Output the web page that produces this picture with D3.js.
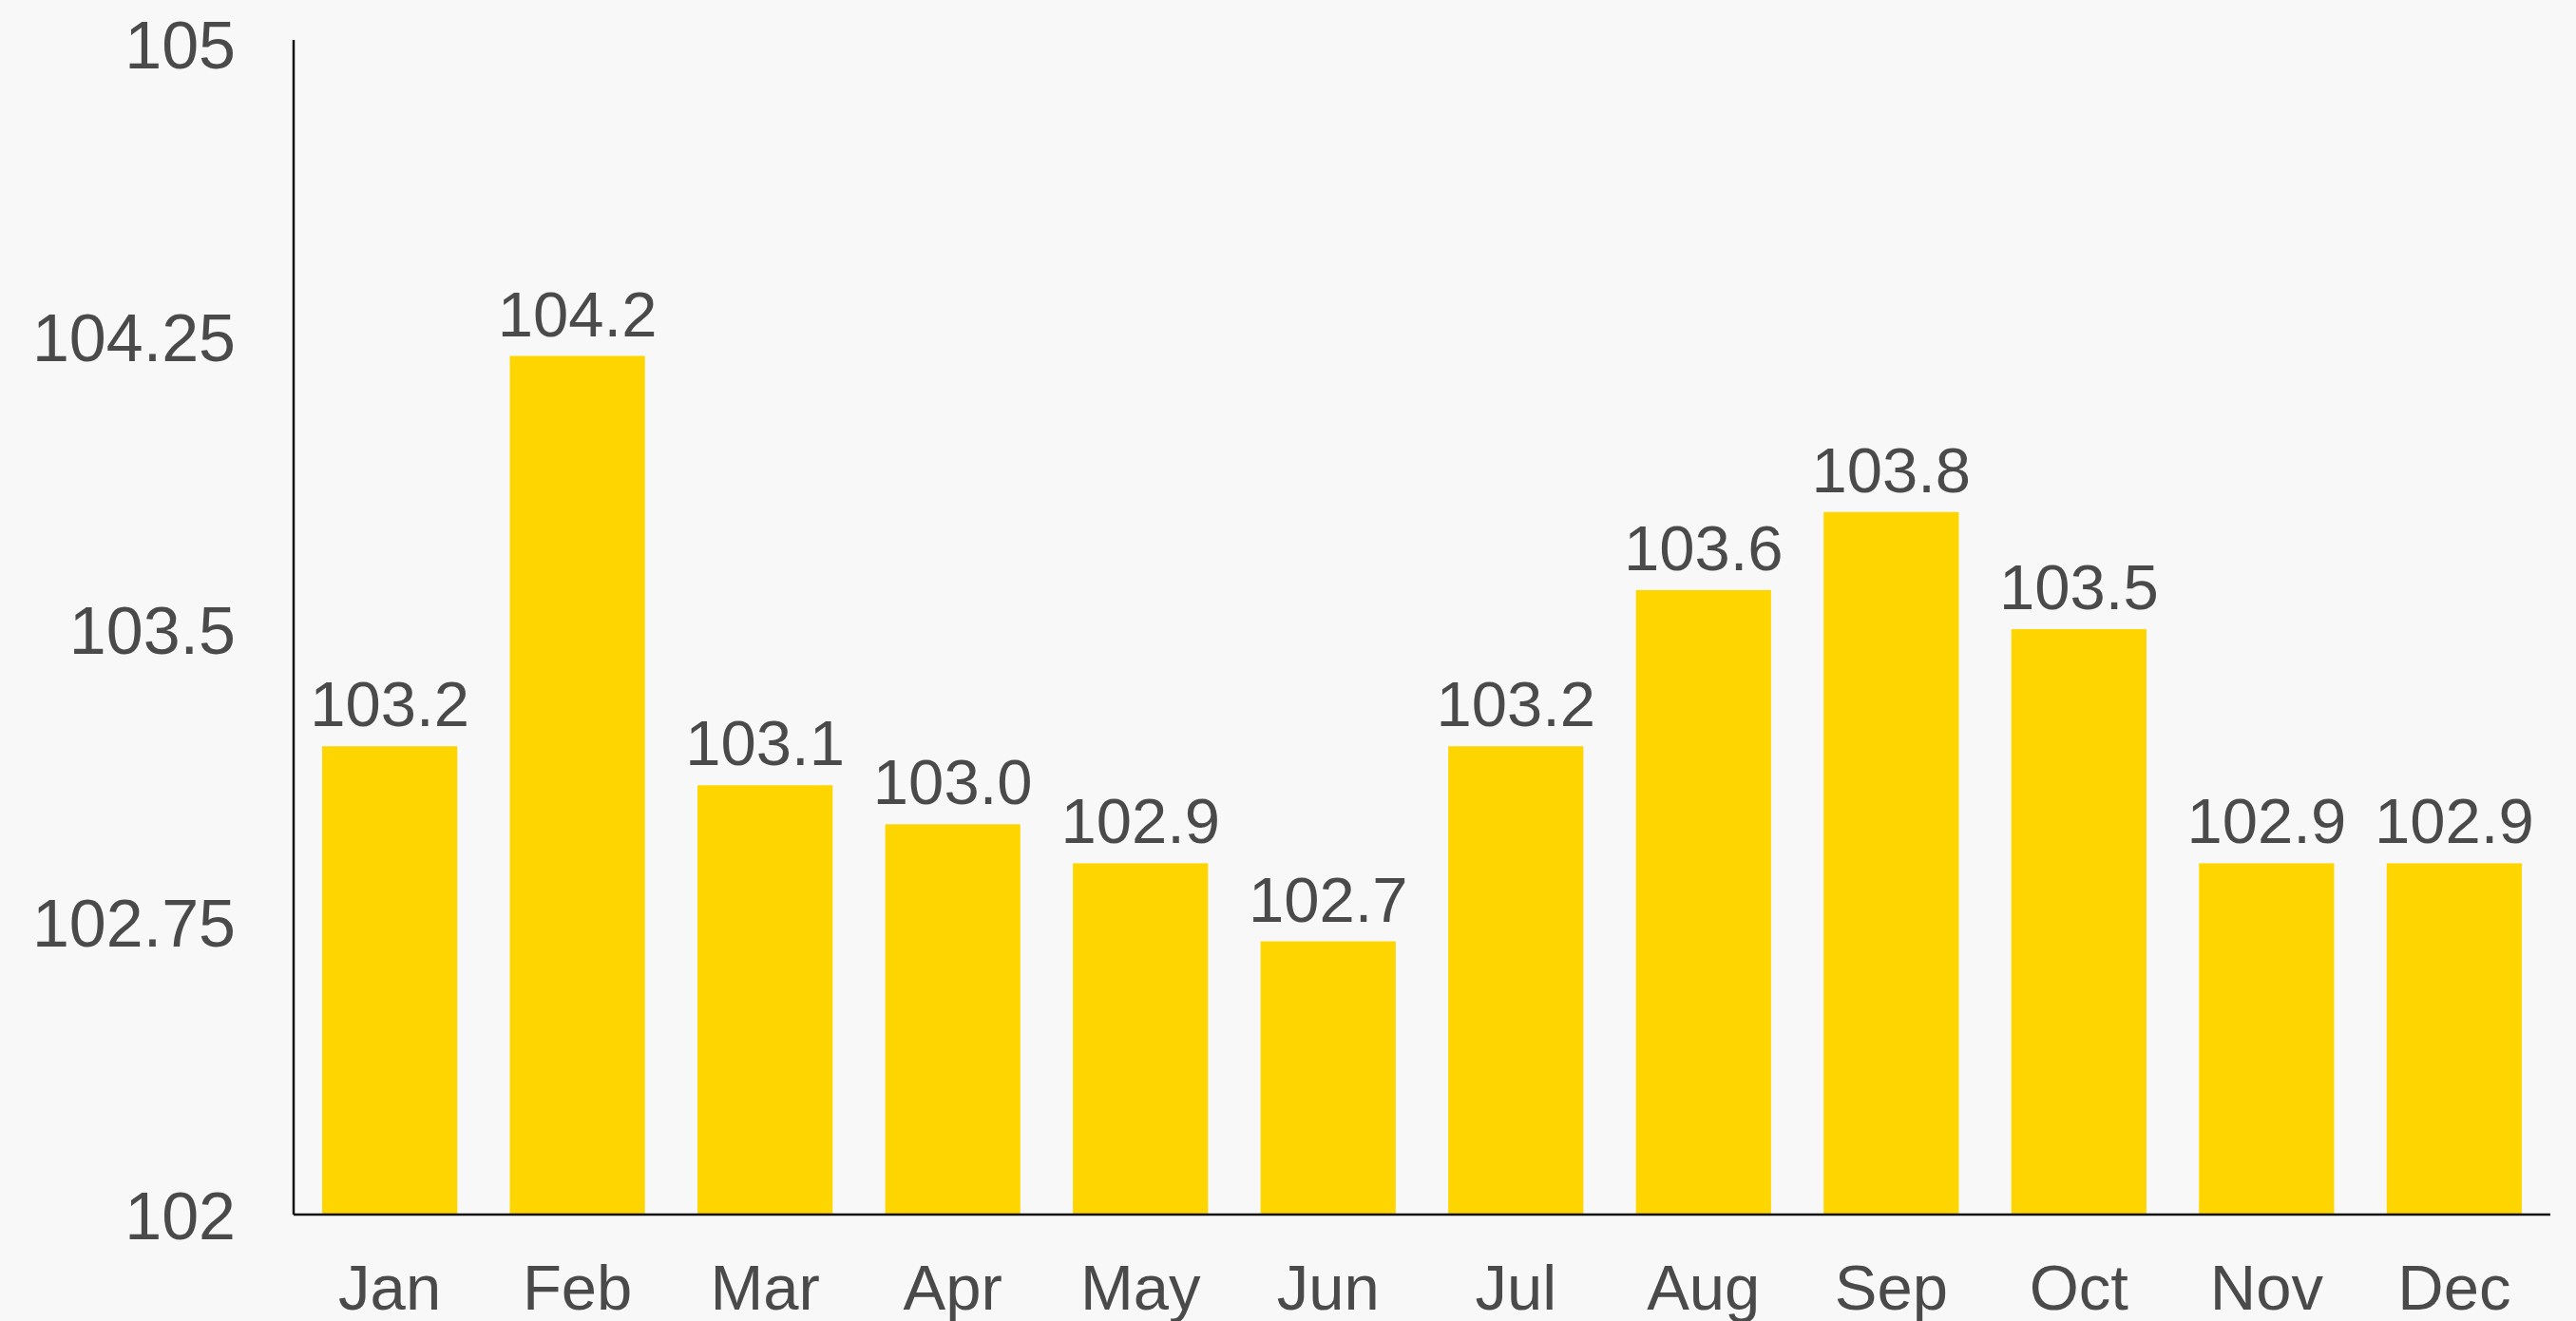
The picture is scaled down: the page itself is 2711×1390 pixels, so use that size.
<!DOCTYPE html>
<html>
<head>
<meta charset="utf-8">
<script src="https://cdn.jsdelivr.net/npm/d3@7"></script>
<style>
  html, body { margin: 0; padding: 0; background: #f8f8f8; }
  svg { display: block; }
</style>
</head>
<body>
<div id="chart"></div>
<script>
// data
var months = ["Jan", "Feb", "Mar", "Apr", "May", "Jun", "Jul", "Aug", "Sep", "Oct", "Nov", "Dec"];
var values = [103.2, 104.2, 103.1, 103.0, 102.9, 102.7, 103.2, 103.6, 103.8, 103.5, 102.9, 102.9];
var yTicks = [102, 102.75, 103.5, 104.25, 105];

var W = 2711, H = 1390;
var plotLeft = 309, plotRight = 2684, plotTop = 46, plotBottom = 1278;

var svg = d3.select("#chart")
  .append("svg")
    .attr("width", W)
    .attr("height", H)
    .style("font-family", "'Liberation Sans', Arial, sans-serif");

svg.append("rect")
  .attr("width", W).attr("height", H)
  .attr("fill", "#f8f8f8");

var x = d3.scaleBand()
  .domain(months)
  .range([plotLeft, plotRight])
  .paddingInner(0.28)
  .paddingOuter(0.152);

var y = d3.scaleLinear()
  .domain([102, 105])
  .range([plotBottom, plotTop]);

// bars
svg.append("g")
  .selectAll("rect")
  .data(values)
  .enter()
  .append("rect")
    .attr("x", function (d, i) { return x(months[i]); })
    .attr("y", function (d) { return y(d); })
    .attr("width", x.bandwidth())
    .attr("height", function (d) { return y(102) - y(d); })
    .attr("fill", "#ffd500");

// value labels
svg.append("g")
  .selectAll("text")
  .data(values)
  .enter()
  .append("text")
    .attr("x", function (d, i) { return x(months[i]) + x.bandwidth() / 2; })
    .attr("y", function (d) { return y(d) - 21; })
    .attr("text-anchor", "middle")
    .attr("fill", "#4a4a4a")
    .attr("font-size", "67px")
    .text(function (d) { return d3.format(".1f")(d); });

// y axis
var yAxisG = svg.append("g")
  .attr("transform", "translate(" + plotLeft + ",0)")
  .call(d3.axisLeft(y).tickValues(yTicks).tickSize(0).tickPadding(61)
    .tickFormat(function (d) { return String(d); }));
yAxisG.select(".domain")
  .attr("d", "M0," + (plotTop - 4) + "V" + plotBottom)
  .attr("stroke", "#111").attr("stroke-width", 2.5);
yAxisG.selectAll("text")
  .attr("fill", "#4a4a4a")
  .attr("font-size", "70px")
  .attr("font-family", "'Liberation Sans', Arial, sans-serif")
  .attr("dy", "0.36em");

// x axis
var xAxisG = svg.append("g")
  .attr("transform", "translate(0," + plotBottom + ")")
  .call(d3.axisBottom(x).tickSize(0).tickPadding(52));
xAxisG.select(".domain")
  .attr("d", "M" + plotLeft + ",0H" + plotRight)
  .attr("stroke", "#111").attr("stroke-width", 2.5);
xAxisG.selectAll("text")
  .attr("fill", "#4a4a4a")
  .attr("font-size", "67px")
  .attr("font-family", "'Liberation Sans', Arial, sans-serif");
</script>
</body>
</html>
